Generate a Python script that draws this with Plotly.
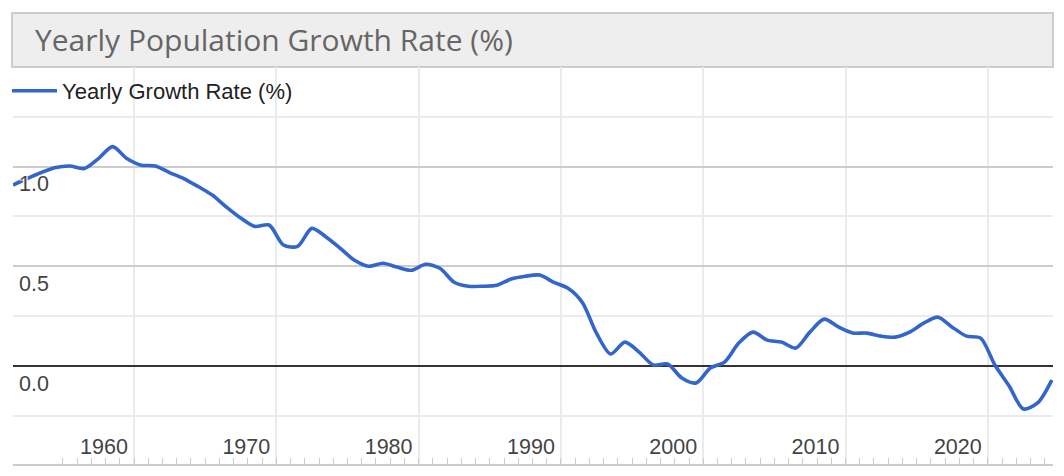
import plotly.graph_objects as go

# ---- data ----
years = list(range(1951, 2025))
growth_rate = [
    0.907, 0.94, 0.97, 0.995, 1.003, 0.99, 1.04, 1.10, 1.04, 1.007,   # 1951-1960
    1.003, 0.97, 0.94, 0.90, 0.857, 0.797, 0.742, 0.70, 0.707, 0.607,  # 1961-1970
    0.60, 0.69, 0.647, 0.59, 0.53, 0.50, 0.515, 0.496, 0.48, 0.51,     # 1971-1980
    0.49, 0.42, 0.40, 0.40, 0.405, 0.436, 0.45, 0.456, 0.42, 0.39,     # 1981-1990
    0.32, 0.165, 0.06, 0.12, 0.07, 0.005, 0.01, -0.06, -0.085, -0.01,  # 1991-2000
    0.02, 0.115, 0.17, 0.13, 0.12, 0.09, 0.17, 0.235, 0.196, 0.166,    # 2001-2010
    0.165, 0.15, 0.145, 0.17, 0.215, 0.245, 0.195, 0.15, 0.14, 0.005,  # 2011-2020
    -0.10, -0.215, -0.185, -0.07,                                      # 2021-2024
]
x_label_years = [1960, 1970, 1980, 1990, 2000, 2010, 2020]
y_tick_values = [0.0, 0.5, 1.0]
y_tick_labels = ["0.0", "0.5", "1.0"]

series_name = "Yearly Growth Rate (%)"
chart_title = "Yearly Population Growth Rate (%)"

# ---- figure ----
W, H = 1064, 476
ML, MR, MT, MB = 13, 11, 67, 12
plot_w = W - ML - MR
plot_h = H - MT - MB

dates = [f"{y}-07-01" for y in years]

fig = go.Figure()
fig.add_trace(go.Scatter(
    x=dates, y=growth_rate, mode="lines", name=series_name,
    line=dict(color="#3366cc", width=3.6, shape="spline", smoothing=0.8),
    showlegend=True,
))

halo = "white 1px 1px 1px, white -1px -1px 1px, white 1px -1px 1px, white -1px 1px 1px"

fig.update_layout(
    width=W, height=H,
    margin=dict(l=ML, r=MR, t=MT, b=MB, autoexpand=False),
    paper_bgcolor="white", plot_bgcolor="white",
    title=dict(
        text=chart_title, x=35 / W, xanchor="left", xref="container",
        y=1 - 40 / H, yanchor="middle", yref="container",
        font=dict(family="Open Sans", size=30, color="#666666"),
    ),
    legend=dict(
        orientation="h", x=-6 / plot_w, xanchor="left",
        y=(H - MB - 91) / plot_h, yanchor="middle",
        bgcolor="rgba(0,0,0,0)", itemwidth=45,
        font=dict(family="Arial, Liberation Sans", size=22, color="#222222"),
    ),
    shapes=[dict(
        type="rect", xref="paper", yref="paper",
        x0=-1 / plot_w, x1=1.0, y0=1.0, y1=(H - MB - 13) / plot_h,
        fillcolor="#eeeeee", line=dict(color="#cccccc", width=2),
        layer="below",
    )],
    xaxis=dict(
        type="date",
        range=["1951-07-01", "2024-07-31"],
        tickmode="array",
        tickvals=[f"{y}-01-01" for y in x_label_years],
        ticktext=[str(y) for y in x_label_years],
        ticks="", ticklabelposition="inside", ticklabelshift=-30, ticklabelstandoff=7,
        tickfont=dict(family="Arial, Liberation Sans", size=21.5, color="#444444"),
        showgrid=True, gridcolor="#ebebeb", gridwidth=2,
        showline=True, linecolor="#cccccc", linewidth=2,
        zeroline=False, fixedrange=True,
        minor=dict(ticks="inside", ticklen=6, tickwidth=1, tickcolor="#cccccc",
                   tick0="1951-01-01", dtick="M12", showgrid=False),
    ),
    yaxis=dict(
        range=[-0.491, 1.499],
        tickmode="array", tickvals=y_tick_values, ticktext=y_tick_labels,
        ticks="", ticklabelposition="inside", ticklabelshift=17, ticklabelstandoff=3,
        tickfont=dict(family="Arial, Liberation Sans", size=21.5, color="#444444",
                      shadow=halo),
        showgrid=True, gridcolor="#cccccc", gridwidth=2,
        zeroline=True, zerolinecolor="#333333", zerolinewidth=2,
        showline=False, fixedrange=True,
        minor=dict(tickmode="linear", tick0=0, dtick=0.25, showgrid=True,
                   gridcolor="#ebebeb", gridwidth=2, ticks=""),
    ),
)

fig.write_html("out.html", config={"displayModeBar": False},
               post_script="document.body.style.margin='0';")
